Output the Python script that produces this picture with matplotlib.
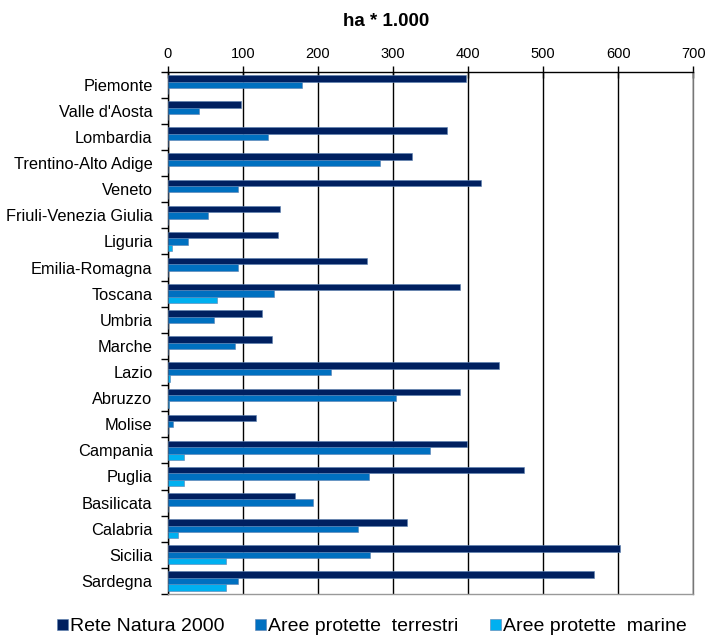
import matplotlib
matplotlib.use("Agg")
import matplotlib.pyplot as plt
import numpy as np

plt.rcParams['font.family'] = ['Liberation Sans', 'DejaVu Sans']

regions = ["Piemonte", "Valle d'Aosta", "Lombardia", "Trentino-Alto Adige", "Veneto",
           "Friuli-Venezia Giulia", "Liguria", "Emilia-Romagna", "Toscana", "Umbria",
           "Marche", "Lazio", "Abruzzo", "Molise", "Campania", "Puglia", "Basilicata",
           "Calabria", "Sicilia", "Sardegna"]

rete_natura = [397, 98, 372, 325, 418, 149, 147, 265, 390, 126,
               139, 441, 390, 117, 399, 474, 170, 319, 603, 568]
aree_terrestri = [179, 41, 133, 283, 93, 53, 27, 93, 141, 61,
                  89, 217, 304, 7, 350, 268, 193, 254, 269, 93]
aree_marine = [0, 0, 0, 0, 0, 0, 5, 0, 65, 0,
               0, 3, 1, 0, 22, 21, 0, 14, 78, 78]

series = [("Rete Natura 2000", rete_natura, "#002060"),
          ("Aree protette  terrestri", aree_terrestri, "#0070C0"),
          ("Aree protette  marine", aree_marine, "#00B0F0")]

xticks = [0, 100, 200, 300, 400, 500, 600, 700]

fig = plt.figure(figsize=(7.08, 6.37), dpi=100)
ax = fig.add_axes([0.237, 0.0675, 0.742, 0.82])

n = len(regions)
y = np.arange(n)
h = 0.245
for i, (name, vals, col) in enumerate(series):
    ax.barh(y + (i - 1) * h, vals, height=h, color=col, edgecolor="#5a7fb0",
            linewidth=0.4, label=name, zorder=3)

ax.set_xlim(0, 700)
ax.set_ylim(n - 0.5, -0.5)
ax.xaxis.tick_top()
ax.set_xticks(xticks)
ax.set_xticklabels([str(t) for t in xticks], fontsize=10.5)
ax.tick_params(axis='x', direction='inout', length=8, width=1, pad=4, top=True, bottom=False)
ax.grid(axis='x', color='black', linewidth=1, zorder=1)

ax.set_yticks(y)
ax.set_yticklabels(regions, fontsize=11.8)
ax.set_yticks(np.arange(n + 1) - 0.5, minor=True)
ax.tick_params(axis='y', which='major', length=0, pad=11)
ax.tick_params(axis='y', which='minor', length=5, width=1, direction='out')

ax.spines['top'].set_color('black')
ax.spines['left'].set_color('black')
ax.spines['bottom'].set_color('#999999')
ax.spines['right'].set_color('#777777')
for s in ax.spines.values():
    s.set_linewidth(1)

fig.text(0.546, 0.967, "ha * 1.000", ha='center', va='center', fontsize=13.5, fontweight='bold')

leg = fig.legend(loc='center', bbox_to_anchor=(0.525, 0.016), ncol=3, frameon=False,
                 fontsize=14, handlelength=0.56, handleheight=0.56, handletextpad=0.1,
                 columnspacing=1.6)

fig.savefig("out.png", dpi=100)
